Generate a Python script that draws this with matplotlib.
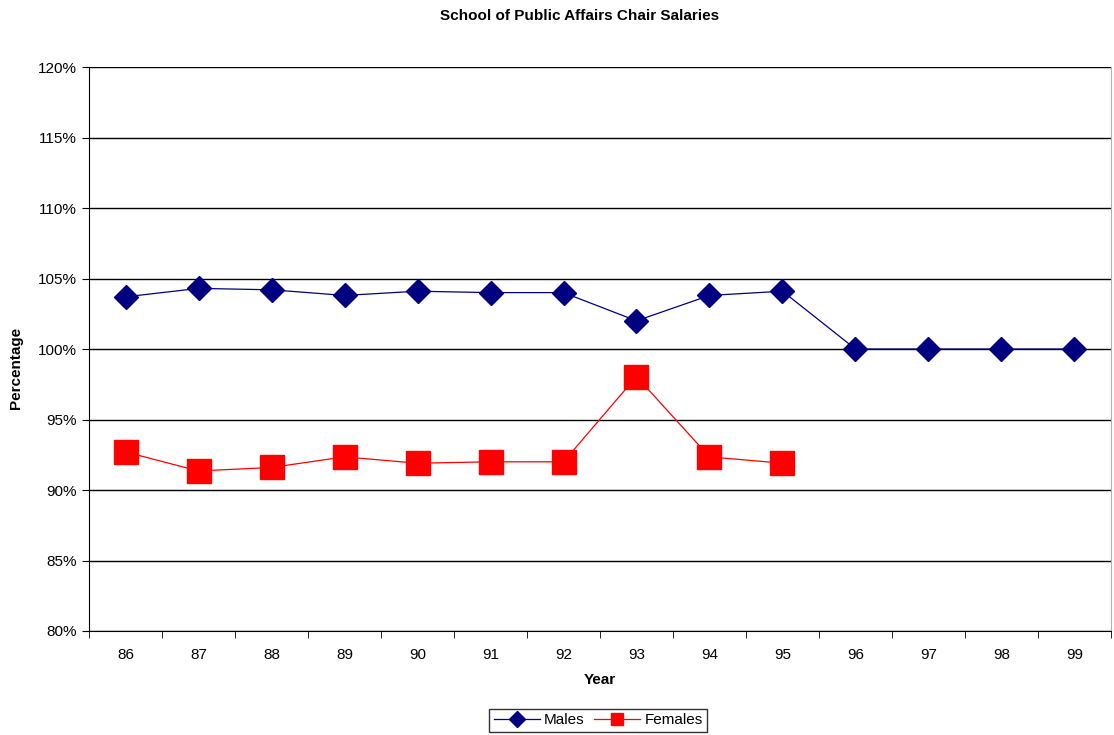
import matplotlib.pyplot as plt
import numpy as np

plt.rcParams["font.family"] = ["Liberation Sans", "DejaVu Sans"]

years = ["86", "87", "88", "89", "90", "91", "92", "93", "94", "95", "96", "97", "98", "99"]
males = [103.7, 104.3, 104.2, 103.8, 104.1, 104.0, 104.0, 102.0, 103.8, 104.1, 100.0, 100.0, 100.0, 100.0]
females = [92.7, 91.35, 91.6, 92.35, 91.9, 92.0, 92.0, 98.05, 92.35, 91.9]

fig = plt.figure(figsize=(11.14, 7.35), dpi=100)
ax = fig.add_axes([0.0799, 0.1415, 0.9174, 0.7673])

x = np.arange(len(years))
ax.plot(x, males, color="#000080", lw=0.9, marker="D", ms=12, mec="#000080", label="Males")
ax.plot(x[:len(females)], females, color="#ff0000", lw=0.9, marker="s", ms=17, mec="#ff0000", label="Females")

ax.set_xlim(-0.5, len(years) - 0.5)
ax.set_ylim(80, 120)
ax.set_yticks(np.arange(80, 121, 5))
ax.set_yticklabels([f"{v}%" for v in range(80, 121, 5)], fontsize=11)
ax.set_xticks(x)
ax.set_xticklabels(years, fontsize=11)
ax.set_xticks(np.arange(-0.5, len(years), 1), minor=True)
ax.tick_params(axis="x", which="major", length=0, pad=12)
ax.tick_params(axis="x", which="minor", length=5, color="black")
ax.tick_params(axis="y", length=5, color="black")
ax.yaxis.grid(True, color="black", lw=1)
ax.set_axisbelow(True)

ax.spines["top"].set_visible(False)
ax.spines["right"].set_color("#b0b0b0")
ax.spines["left"].set_color("black")
ax.spines["bottom"].set_color("black")

ax.set_xlabel("Year", fontsize=11, fontweight="bold", labelpad=8)
fig.text(0.014, 0.5, "Percentage", rotation=90, fontsize=11, fontweight="bold", va="center", ha="center")
fig.text(0.52, 0.978, "School of Public Affairs Chair Salaries", fontsize=11, fontweight="bold", ha="center", va="center")

leg = fig.legend(loc="center", ncol=2, fontsize=11,
                 frameon=True, fancybox=False, edgecolor="black", handlelength=3,
                 columnspacing=0.6, handletextpad=0.3, borderpad=0.3)
leg.set_bbox_to_anchor((0.537, 0.02), transform=fig.transFigure)
for h in leg.legend_handles:
    h.set_markersize(8)
leg.get_frame().set_linewidth(1)

fig.savefig("out.png", dpi=100)
